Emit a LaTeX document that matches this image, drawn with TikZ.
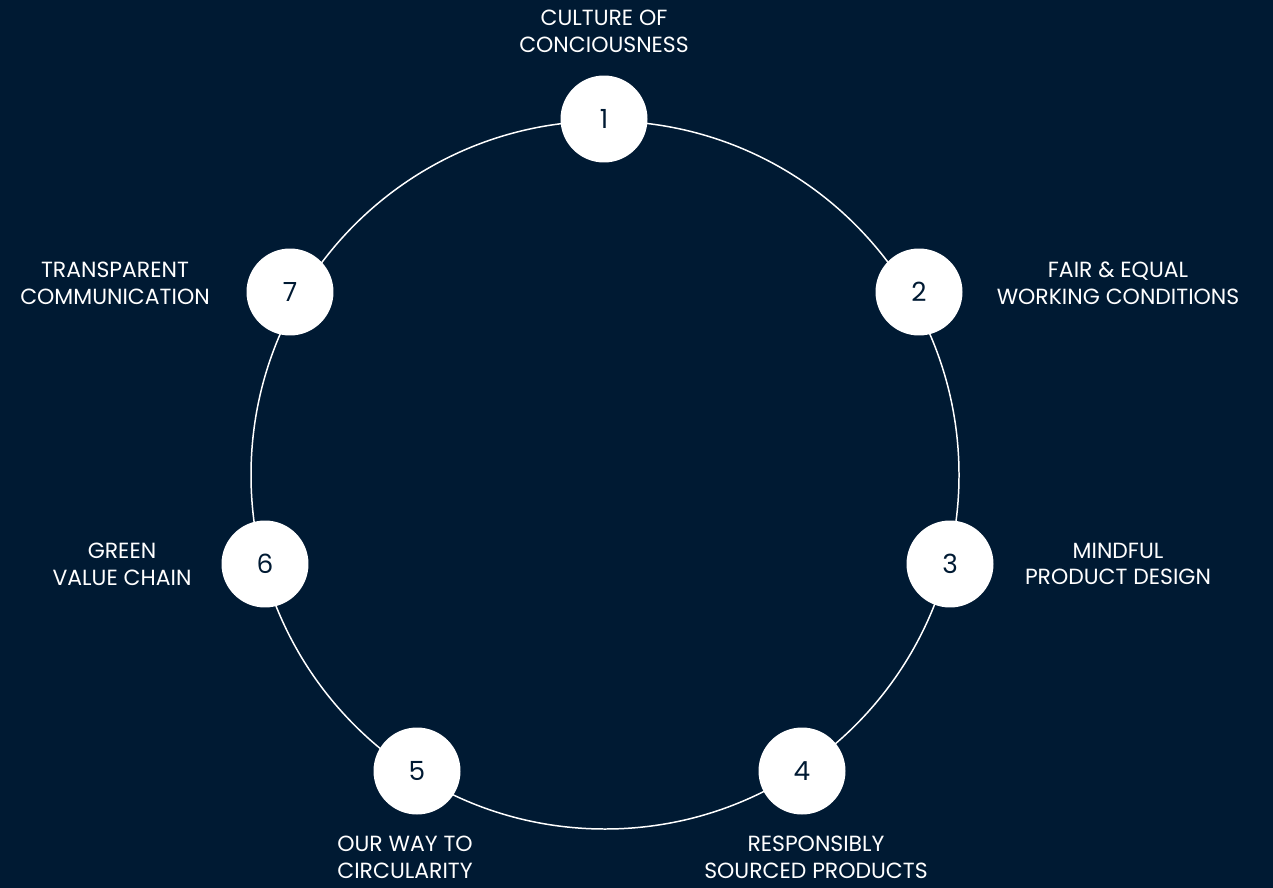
\documentclass[tikz,border=0pt]{standalone}
\usepackage{fontspec}
\setmainfont{Poppins}
\definecolor{navy}{HTML}{001A33}
\tikzset{
  stepdot/.style={circle, fill=white, minimum size=1.74cm, inner sep=0pt, text=navy, font=\fontsize{15}{17}\selectfont},
  caption/.style={align=center, text=white, inner sep=0pt, font=\fontsize{12.5}{15.2}\selectfont}
}
\begin{document}
\begin{tikzpicture}[x=0.02cm,y=-0.02cm]
\fill[navy] (0,0) rectangle (1273,888);
\useasboundingbox (0,0) rectangle (1273,888);
% ring
\draw[white, line width=0.85pt] (605,475) circle (354);
% numbered dots
\node[stepdot] (n1) at (604,119) {1};
\node[stepdot] (n2) at (919,292) {2};
\node[stepdot] (n3) at (950,564) {3};
\node[stepdot] (n4) at (802,771) {4};
\node[stepdot] (n5) at (417,771) {5};
\node[stepdot] (n6) at (265,564) {6};
\node[stepdot] (n7) at (290,292) {7};
% captions
\node[caption] (c1) at (604,31) {CULTURE OF\\CONCIOUSNESS};
\node[caption] (c2) at (1118,283) {FAIR \& EQUAL\\WORKING CONDITIONS};
\node[caption] (c3) at (1118,564) {MINDFUL\\PRODUCT DESIGN};
\node[caption] (c4) at (816,857) {RESPONSIBLY\\SOURCED PRODUCTS};
\node[caption] (c5) at (405,857) {OUR WAY TO\\CIRCULARITY};
\node[caption] (c6) at (122,564) {GREEN\\VALUE CHAIN};
\node[caption] (c7) at (115,283) {TRANSPARENT\\COMMUNICATION};
\end{tikzpicture}
\end{document}
